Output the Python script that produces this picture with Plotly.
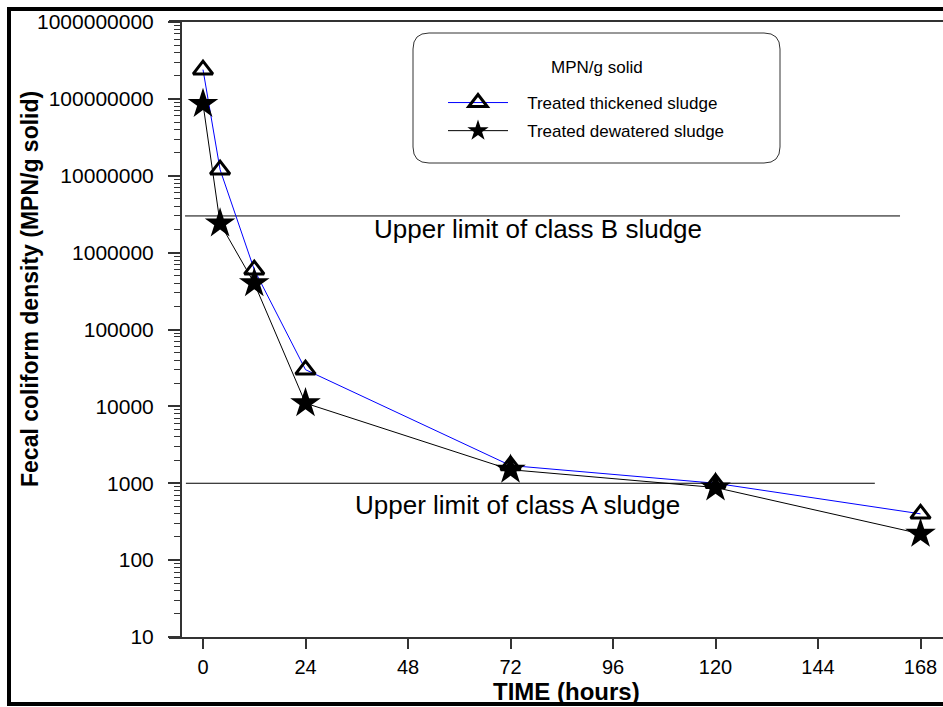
import plotly.graph_objects as go

W, H = 943, 707

# ---- data ----
hours = [0, 4, 12, 24, 72, 120, 168]
thickened = [2.4e8, 1.2e7, 6.0e5, 3.0e4, 1.7e3, 1.0e3, 4.0e2]
dewatered = [8.6e7, 2.4e6, 4.0e5, 1.1e4, 1.5e3, 8.8e2, 2.2e2]

x_ticks = [0, 24, 48, 72, 96, 120, 144, 168]
y_tickvals = [10, 100, 1000, 10000, 100000, 1000000, 10000000, 100000000, 1000000000]
y_ticktext = ["10", "100", "1000", "10000", "100000", "1000000", "10000000", "100000000", "1000000000"]

class_b_limit = 3e6
class_a_limit = 1000
class_b_span = [-4.2, 163.2]
class_a_span = [-4.0, 157.3]
class_b_label = "Upper limit of class B sludge"
class_a_label = "Upper limit of class A sludge"
legend_title = "MPN/g solid"

FONT = "Liberation Sans, Arial, sans-serif"
NB = "\u00a0"


def px(x):
    return x / W


def py(y):
    return 1 - y / H


fig = go.Figure()

fig.add_trace(go.Scatter(
    x=class_b_span, y=[class_b_limit] * 2, mode="lines",
    line=dict(color="black", width=1), showlegend=False, hoverinfo="skip"))
fig.add_trace(go.Scatter(
    x=class_a_span, y=[class_a_limit] * 2, mode="lines",
    line=dict(color="black", width=1), showlegend=False, hoverinfo="skip"))

fig.add_trace(go.Scatter(
    x=hours, y=thickened, mode="lines+markers", name=NB * 3 + "Treated thickened sludge",
    legendgroup="a",
    line=dict(color="#0000ff", width=1),
    marker=dict(symbol="triangle-up-open", size=17, color="black",
                line=dict(color="black", width=3))))
fig.add_trace(go.Scatter(
    x=hours, y=dewatered, mode="lines+markers", name=NB * 3 + "Treated dewatered sludge",
    legendgroup="b",
    line=dict(color="black", width=1),
    marker=dict(symbol="star", size=23, color="black",
                line=dict(color="black", width=0))))

# legend rounded box
x0, y0, x1, y1, r = 413, 33, 780, 163, 16
path = (f"M {px(x0 + r)},{py(y0)} L {px(x1 - r)},{py(y0)} "
        f"Q {px(x1)},{py(y0)} {px(x1)},{py(y0 + r)} "
        f"L {px(x1)},{py(y1 - r)} Q {px(x1)},{py(y1)} {px(x1 - r)},{py(y1)} "
        f"L {px(x0 + r)},{py(y1)} Q {px(x0)},{py(y1)} {px(x0)},{py(y1 - r)} "
        f"L {px(x0)},{py(y0 + r)} Q {px(x0)},{py(y0)} {px(x0 + r)},{py(y0)} Z")

shapes = [
    dict(type="path", xref="paper", yref="paper", path=path,
         line=dict(color="#333333", width=1)),
    # outer thick frame
    dict(type="rect", xref="paper", yref="paper",
         x0=px(9), x1=1.05, y0=py(704), y1=py(9),
         line=dict(color="black", width=4)),
]

annotations = [
    dict(text=class_b_label, x=px(538), y=py(229), xref="paper", yref="paper",
         showarrow=False, font=dict(family=FONT, size=26, color="black"),
         xanchor="center", yanchor="middle"),
    dict(text=class_a_label, x=px(517), y=py(505), xref="paper", yref="paper",
         showarrow=False, font=dict(family=FONT, size=26, color="black"),
         xanchor="center", yanchor="middle"),
    dict(text="<b>TIME (hours)</b>", x=px(566), y=py(691), xref="paper", yref="paper",
         showarrow=False, font=dict(family=FONT, size=24, color="black"),
         xanchor="center", yanchor="middle"),
    dict(text="<b>Fecal coliform density (MPN/g solid)</b>", x=px(30), y=py(289),
         xref="paper", yref="paper", textangle=-90, showarrow=False,
         font=dict(family=FONT, size=23, color="black"),
         xanchor="center", yanchor="middle"),
    dict(text=legend_title, x=px(597), y=py(67), xref="paper", yref="paper",
         showarrow=False, font=dict(family=FONT, size=17, color="black"),
         xanchor="center", yanchor="middle"),
]

fig.update_layout(
    width=W, height=H, autosize=False,
    margin=dict(l=0, r=0, t=0, b=0, pad=0, autoexpand=False),
    paper_bgcolor="white", plot_bgcolor="white",
    font=dict(family=FONT, color="black"),
    shapes=shapes, annotations=annotations,
    showlegend=True,
    legend=dict(
        x=px(443), y=py(85), xanchor="left", yanchor="top",
        bgcolor="rgba(0,0,0,0)", borderwidth=0,
        font=dict(family=FONT, size=17, color="black"),
        itemwidth=60, tracegroupgap=3,
    ),
    xaxis=dict(
        domain=[px(169), 1], range=[(169 - 203) / 4.271, (943 - 203) / 4.271],
        tickvals=x_ticks, ticks="outside", ticklen=10, tickwidth=1.5,
        tickcolor="#333333", showline=True, linecolor="#333333", linewidth=1.5,
        mirror=True, showgrid=False, zeroline=False, automargin=False,
        tickfont=dict(family=FONT, size=20, color="black"), ticklabelstandoff=1,
    ),
    yaxis=dict(
        type="log", domain=[py(637), py(22)], range=[1, 9],
        anchor="free", position=px(181), automargin=False,
        tickvals=y_tickvals, ticktext=y_ticktext,
        ticks="outside", ticklen=12, tickwidth=1.5, tickcolor="#333333",
        minor=dict(ticks="outside", ticklen=6, tickwidth=1, tickcolor="#333333", dtick="D1"),
        showline=True, linecolor="#333333", linewidth=2,
        showgrid=False, zeroline=False,
        tickfont=dict(family=FONT, size=21, color="black"), ticklabelstandoff=10,
    ),
)

fig.write_html("out.html")
